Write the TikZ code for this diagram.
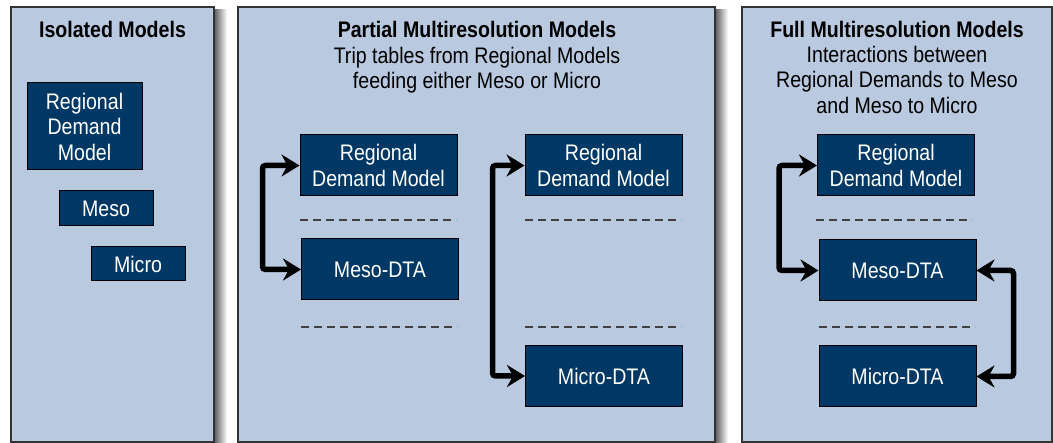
\documentclass[tikz,border=0pt]{standalone}
\usepackage{fontspec}
\setmainfont{Liberation Sans}[FakeStretch=0.87]
\usetikzlibrary{arrows.meta}
\definecolor{panelblue}{RGB}{185,201,223}
\definecolor{boxnavy}{RGB}{0,56,101}

\begin{document}
\begin{tikzpicture}[x=1pt,y=1pt,yscale=-1,
	panel/.style={draw=black!80,line width=1.4pt,fill=panelblue},
	model/.style={draw=black,line width=1pt,fill=boxnavy,text=white,align=center,inner sep=0pt,font=\fontsize{22.5pt}{25.5pt}\selectfont},
	wide/.style={minimum width=157pt,minimum height=61pt},
	heading/.style={anchor=north,align=center,inner sep=0pt,font=\fontsize{22.5pt}{25.5pt}\selectfont},
	sep/.style={draw=black!75,line width=1.2pt,dash pattern=on 8pt off 5pt},
	link/.style={line width=5.5pt,rounded corners=3pt,<->,>={Stealth[length=18pt,width=22pt,inset=6pt]}}]
	\useasboundingbox (0,0) rectangle (1053,443);
	
	%Shadows
	\shade[left color=black!65,right color=white] (214,10) rectangle (227,443);
	\shade[left color=black!65,right color=white] (715,10) rectangle (728,443);
	
	%Panel: Isolated
	\draw[panel] (11,7) rectangle (214,442);
	%Panel: Partial
	\draw[panel] (238,7) rectangle (715,442);
	%Panel: Full
	\draw[panel] (742,7) rectangle (1052,442);
	
	% Headings
	\node[heading] (headI) at (112.5,21.5) {\textbf{Isolated Models}};
	\node[heading] (headP) at (477,21.5) {\textbf{Partial Multiresolution Models}\\Trip tables from Regional Models\\feeding either Meso or Micro};
	\node[heading] (headF) at (897,20.5) {\textbf{Full Multiresolution Models}\\Interactions between\\Regional Demands to Meso\\and Meso to Micro};
	
	% Isolated boxes
	\node[model,minimum width=115pt,minimum height=87pt] (rdmI) at (84.5,126.5) {Regional\\Demand\\Model};
	\node[model,minimum width=94pt,minimum height=35pt] (mesoI) at (106,208.5) {Meso};
	\node[model,minimum width=94pt,minimum height=34pt] (microI) at (138,264) {Micro};
	
	% Partial boxes
	\node[model,wide] (rdmPa) at (378.5,165.5) {Regional\\Demand Model};
	\node[model,wide] (mesoPa) at (380,269.5) {Meso-DTA};
	\node[model,wide] (rdmPb) at (603.5,165.5) {Regional\\Demand Model};
	\node[model,wide] (microPb) at (604,376) {Micro-DTA};
	
	% Full boxes
	\node[model,wide] (rdmF) at (896,165.5) {Regional\\Demand Model};
	\node[model,wide] (mesoF) at (897.5,270.5) {Meso-DTA};
	\node[model,wide] (microF) at (897.5,376.5) {Micro-DTA};
	
	% Dashed separators
	\draw[sep] (300,220) -- (456,220);
	\draw[sep] (301,327) -- (457,327);
	\draw[sep] (525,220) -- (681,220);
	\draw[sep] (525,327) -- (681,327);
	\draw[sep] (816,220) -- (972,220);
	\draw[sep] (819,327) -- (975,327);
	
	% Links
	\draw[link] (rdmPa.west) -- ++(-37,0) |- (mesoPa.west);
	\draw[link] (rdmPb.west) -- ++(-32,0) |- (microPb.west);
	\draw[link] (rdmF.west) -- ++(-38,0) |- (mesoF.west);
	\draw[link] (mesoF.east) -- ++(37,0) |- (microF.east);
	
\end{tikzpicture}
\end{document}
